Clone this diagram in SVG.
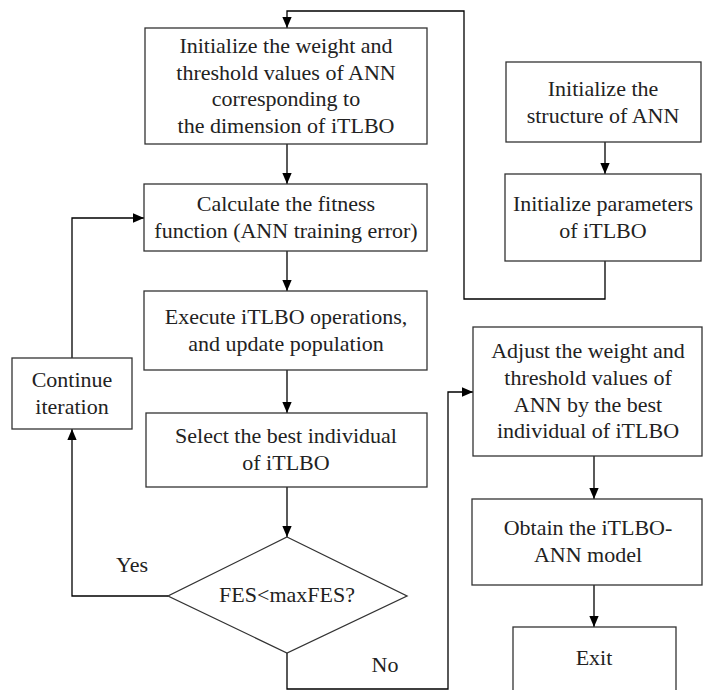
<svg xmlns="http://www.w3.org/2000/svg" width="705" height="690" viewBox="0 0 705 690">
<defs>
<marker id="arr" markerWidth="11" markerHeight="12" refX="13" refY="5.5" markerUnits="userSpaceOnUse" orient="auto" viewBox="0 0 13 11">
<path d="M0,0 L13,5.5 L0,11 Z" fill="#000"/>
</marker>
<style>
.box{fill:#fff;stroke:#333;stroke-width:1.3}
.c{fill:none;stroke:#000;stroke-width:1.3}
</style>
</defs>
<rect width="705" height="690" fill="#fff"/>
<g id="connectors">
<polyline class="c" points="605,261 605,299 464,299 464,11 287,11 287,28" marker-end="url(#arr)"/>
<line class="c" x1="605" y1="142" x2="605" y2="174" marker-end="url(#arr)"/>
<line class="c" x1="287" y1="144" x2="287" y2="184" marker-end="url(#arr)"/>
<line class="c" x1="287" y1="251" x2="287" y2="291" marker-end="url(#arr)"/>
<line class="c" x1="287" y1="370" x2="287" y2="413" marker-end="url(#arr)"/>
<line class="c" x1="287" y1="487" x2="287" y2="537" marker-end="url(#arr)"/>
<polyline class="c" points="168,596 72,596 72,429" marker-end="url(#arr)"/>
<polyline class="c" points="72,358 72,218 144,218" marker-end="url(#arr)"/>
<polyline class="c" points="287,653 287,689 448,689 448,392 473,392" marker-end="url(#arr)"/>
<line class="c" x1="594" y1="456" x2="594" y2="499" marker-end="url(#arr)"/>
<line class="c" x1="594" y1="585" x2="594" y2="627" marker-end="url(#arr)"/>
</g>
<g font-family="Liberation Serif" font-size="22" fill="#222" text-anchor="middle">
<g id="labels">
<text x="132" y="572">Yes</text>
<text x="385" y="672">No</text>
</g>
<g id="init-weights">
<rect class="box" x="145" y="28" width="282" height="116"/>
<text x="286" y="53">Initialize the weight and</text>
<text x="286" y="80">threshold values of ANN</text>
<text x="286" y="106">corresponding to</text>
<text x="286" y="133">the dimension of iTLBO</text>
</g>
<g id="calc-fitness">
<rect class="box" x="144" y="184" width="283" height="67"/>
<text x="286" y="211">Calculate the fitness</text>
<text x="286" y="238">function (ANN training error)</text>
</g>
<g id="execute">
<rect class="box" x="144" y="291" width="283" height="79"/>
<text x="286" y="324">Execute iTLBO operations,</text>
<text x="286" y="351">and update population</text>
</g>
<g id="select">
<rect class="box" x="146" y="413" width="281" height="74"/>
<text x="286" y="443">Select the best individual</text>
<text x="286" y="470">of iTLBO</text>
</g>
<g id="decision">
<polygon class="box" points="287,537 407,596 287,653 168,596"/>
<text x="287" y="602">FES&lt;maxFES?</text>
</g>
<g id="continue">
<rect class="box" x="12" y="358" width="120" height="71"/>
<text x="72" y="387">Continue</text>
<text x="72" y="414">iteration</text>
</g>
<g id="init-structure">
<rect class="box" x="506" y="62" width="195" height="80"/>
<text x="603" y="96">Initialize the</text>
<text x="603" y="123">structure of ANN</text>
</g>
<g id="init-params">
<rect class="box" x="505" y="174" width="196" height="87"/>
<text x="603" y="211">Initialize parameters</text>
<text x="603" y="238">of iTLBO</text>
</g>
<g id="adjust">
<rect class="box" x="473" y="327" width="229" height="129"/>
<text x="588" y="358">Adjust the weight and</text>
<text x="588" y="385">threshold values of</text>
<text x="588" y="412">ANN by the best</text>
<text x="588" y="438">individual of iTLBO</text>
</g>
<g id="obtain">
<rect class="box" x="472" y="499" width="230" height="86"/>
<text x="588" y="535">Obtain the iTLBO-</text>
<text x="588" y="562">ANN model</text>
</g>
<g id="exit">
<rect class="box" x="513" y="627" width="163" height="80"/>
<text x="594" y="665">Exit</text>
</g>
</g>
</svg>
